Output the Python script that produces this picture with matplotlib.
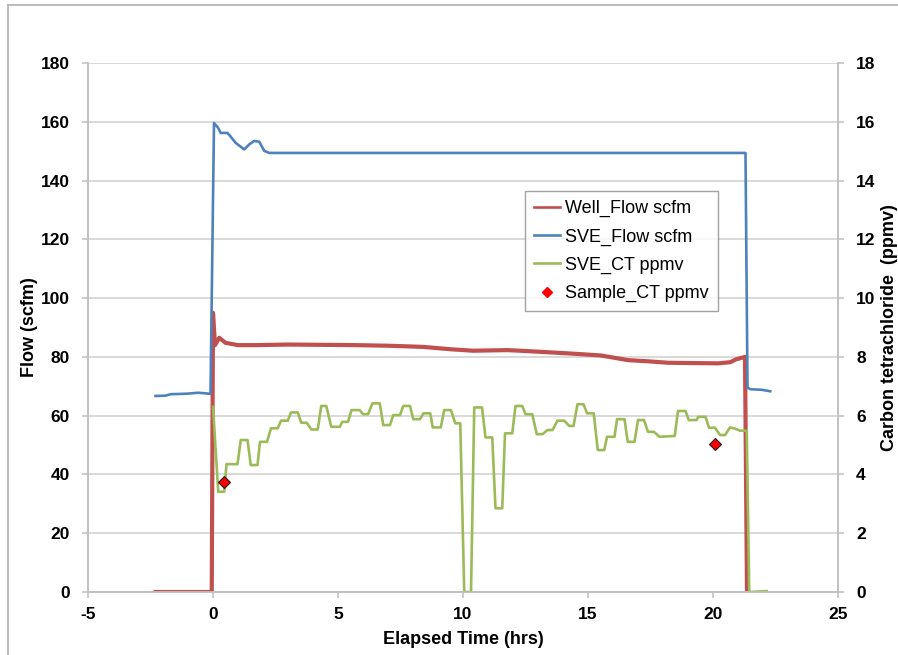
import numpy as np
import matplotlib
matplotlib.use("Agg")
import matplotlib.pyplot as plt
from matplotlib.lines import Line2D

plt.rcParams["font.family"] = ["Liberation Sans", "DejaVu Sans"]
plt.rcParams["axes.unicode_minus"] = False

# ---- data ------------------------------------------------------------------
# Well_Flow scfm (left axis)
well_t = [-2.3, -0.05, 0.0, 0.08, 0.25, 0.5, 1.0, 1.7, 3.0, 5.7, 7.0, 8.4, 9.5,
          10.4, 11.8, 12.5, 14.2, 15.5, 16.6, 17.4, 18.2, 19.2, 20.2, 20.7,
          20.9, 21.28, 21.36, 21.4]
well_flow = [0, 0, 95, 84, 86.5, 84.8, 84, 84, 84.2, 84, 83.8, 83.4, 82.6,
             82.1, 82.3, 82, 81.2, 80.5, 78.9, 78.5, 78.0, 77.9, 77.8, 78.2,
             79.1, 80, 0, 0]

# SVE_Flow scfm (left axis)
sve_t = [-2.3, -1.9, -1.7, -1.3, -1.0, -0.6, -0.3, -0.1, 0.04, 0.2, 0.31,
         0.58, 0.71, 0.91, 1.11, 1.25, 1.45, 1.65, 1.85, 2.05, 2.25, 2.6,
         21.3, 21.38, 21.5, 21.95, 22.29]
sve_flow = [66.7, 66.8, 67.3, 67.4, 67.5, 67.8, 67.6, 67.4, 159.6, 158, 156.2,
            156.2, 154.9, 152.8, 151.5, 150.6, 152.3, 153.5, 153.2, 150.1,
            149.4, 149.4, 149.4, 69.5, 69.0, 68.8, 68.3]

# SVE_CT ppmv (right axis)
ct_t = [0.0, 0.21, 0.45, 0.54, 0.98, 1.11, 1.38, 1.51, 1.78, 1.88, 2.16, 2.32,
        2.59, 2.72, 2.99, 3.12, 3.39, 3.53, 3.75, 3.93, 4.19, 4.33, 4.53, 4.73,
        5.07, 5.17, 5.40, 5.54, 5.87, 6.00, 6.20, 6.38, 6.67, 6.81, 7.08, 7.21,
        7.48, 7.61, 7.88, 8.01, 8.28, 8.42, 8.69, 8.79, 9.11, 9.25, 9.52, 9.69,
        9.89, 10.05, 10.32, 10.45, 10.76, 10.90, 11.17, 11.30, 11.57, 11.68,
        11.97, 12.10, 12.37, 12.50, 12.77, 12.95, 13.18, 13.38, 13.58, 13.78,
        14.05, 14.25, 14.42, 14.58, 14.82, 14.96, 15.23, 15.39, 15.65, 15.76,
        16.06, 16.16, 16.46, 16.59, 16.86, 17.00, 17.24, 17.40, 17.64, 17.86,
        18.47, 18.60, 18.90, 19.03, 19.34, 19.41, 19.70, 19.84, 20.08, 20.28,
        20.48, 20.68, 20.88, 21.08, 21.35, 21.45, 22.15]
ct_ppmv = [6.30, 3.41, 3.41, 4.35, 4.35, 5.17, 5.17, 4.32, 4.32, 5.11, 5.11,
           5.57, 5.57, 5.83, 5.83, 6.11, 6.11, 5.76, 5.76, 5.53, 5.53, 6.33,
           6.33, 5.62, 5.62, 5.79, 5.79, 6.19, 6.19, 6.05, 6.05, 6.42, 6.42,
           5.68, 5.68, 6.02, 6.02, 6.33, 6.33, 5.88, 5.88, 6.08, 6.08, 5.60,
           5.60, 6.19, 6.19, 5.74, 5.74, 0.0, 0.0, 6.28, 6.28, 5.26, 5.26,
           2.85, 2.85, 5.40, 5.40, 6.33, 6.33, 6.05, 6.05, 5.37, 5.37, 5.51,
           5.51, 5.83, 5.83, 5.65, 5.65, 6.39, 6.39, 6.08, 6.08, 4.83, 4.83,
           5.28, 5.28, 5.88, 5.88, 5.11, 5.11, 5.85, 5.85, 5.45, 5.45, 5.28,
           5.31, 6.16, 6.16, 5.85, 5.85, 5.96, 5.96, 5.59, 5.59, 5.34, 5.34,
           5.60, 5.56, 5.49, 5.49, 0.0, 0.03]

# Sample_CT ppmv (right axis)
sample_t = [0.44, 20.08]
sample_ppmv = [3.75, 5.02]

RED = "#C0504D"
BLUE = "#4F81BD"
GREEN = "#9BBB59"
GRID = "#D0D0D0"
SPINE = "#BFBFBF"

W, H = 898, 655
fig = plt.figure(figsize=(W / 100, H / 100), dpi=100)
ax = fig.add_axes([88 / W, 1 - 592 / H, 750 / W, 529 / H])
ax2 = ax.twinx()

l1, = ax.plot(well_t, well_flow, color=RED, lw=3.0, label="Well_Flow scfm")
l2, = ax.plot(sve_t, sve_flow, color=BLUE, lw=1.9, label="SVE_Flow scfm")
l3, = ax2.plot(ct_t, ct_ppmv, color=GREEN, lw=1.9, label="SVE_CT ppmv")
ax2.plot(sample_t, sample_ppmv, ls="none", marker="D", ms=6, mfc="#FF0000",
         mec="#202020", mew=0.8, zorder=5)
l4 = Line2D([], [], ls="none", marker="D", ms=5, mfc="#FF0000", mec="#FF0000")

ax.set_xlim(-5, 25)
ax.set_ylim(0, 180)
ax2.set_ylim(0, 18)
ax.set_xticks(np.arange(-5, 26, 5))
ax.set_yticks(np.arange(0, 181, 20))
ax2.set_yticks(np.arange(0, 19, 2))
ax.grid(axis="y", color=GRID, lw=1.1)
ax.set_axisbelow(True)

for a in (ax, ax2):
    for s in a.spines.values():
        s.set_color(SPINE)
        s.set_linewidth(1.1)
    a.spines["top"].set_visible(False)
    a.tick_params(colors=SPINE, length=4, width=1.1, labelcolor="black",
                  labelsize=12.5)
    for t in a.get_xticklabels() + a.get_yticklabels():
        t.set_fontweight("bold")
ax.tick_params(axis="y", pad=9)
ax.tick_params(axis="x", pad=7)
ax2.tick_params(axis="y", pad=9)

fig.text(30 / W, 1 - 327.5 / H, "Flow (scfm)", rotation=90, ha="center",
         va="center", fontsize=13, fontweight="bold")
fig.text(890 / W, 1 - 327.5 / H, "Carbon tetrachloride  (ppmv)", rotation=90,
         ha="center", va="center", fontsize=13, fontweight="bold")
fig.text(463 / W, 1 - 639 / H, "Elapsed Time (hrs)", ha="center",
         va="center", fontsize=13, fontweight="bold")

leg = ax2.legend([l1, l2, l3, l4],
                 ["Well_Flow scfm", "SVE_Flow scfm", "SVE_CT ppmv",
                  "Sample_CT ppmv"],
                 loc="upper left", bbox_to_anchor=(0.583, 0.758),
                 fontsize=13, frameon=True, fancybox=False,
                 edgecolor="#8C8C8C", handlelength=1.45, handletextpad=0.25,
                 labelspacing=0.62, borderpad=0.5, borderaxespad=0)
leg.get_frame().set_linewidth(1.0)
for h in leg.get_lines()[:3]:
    h.set_linewidth(1.9)

# outer chart border (left and top edges visible in the reference)
fig.add_artist(Line2D([8 / W, 8 / W], [0, 1 - 5 / H], color="#B0B0B0",
                      lw=1.2, transform=fig.transFigure))
fig.add_artist(Line2D([8 / W, 1], [1 - 5 / H, 1 - 5 / H], color="#B0B0B0",
                      lw=1.2, transform=fig.transFigure))

fig.savefig("out.png", dpi=100)
